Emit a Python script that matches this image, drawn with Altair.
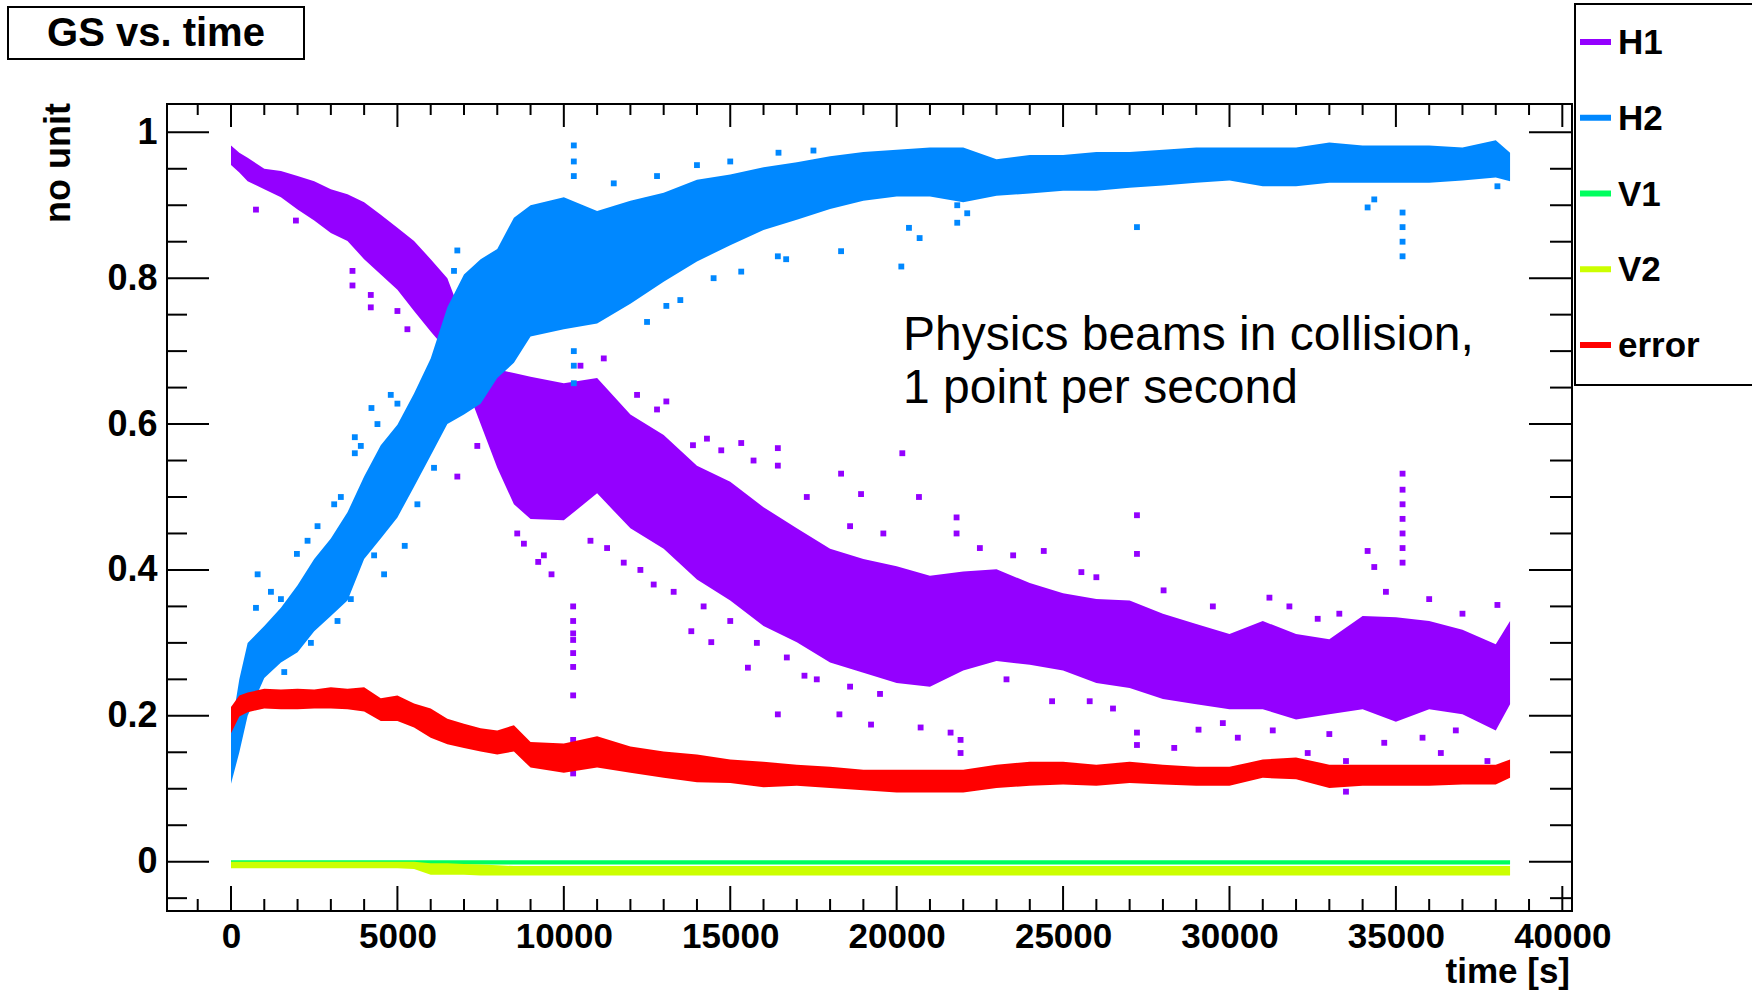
import altair as alt
import pandas as pd

# ---------------- data ----------------
T = [0, 250, 500, 1000, 1500, 2000, 2500, 3000, 3500, 4000, 4500, 5000, 5500,
     6000, 6500, 7000, 7500, 8000, 8500, 9000, 10000, 11000, 12000, 13000,
     14000, 15000, 16000, 17000, 18000, 19000, 20000, 21000, 22000, 23000,
     24000, 25000, 26000, 27000, 28000, 29000, 30000, 31000, 32000, 33000,
     34000, 35000, 36000, 37000, 38000, 38430]

H1_LO = [0.955, 0.945, 0.933, 0.922, 0.911, 0.894, 0.879, 0.862, 0.851, 0.826,
         0.805, 0.784, 0.755, 0.727, 0.700, 0.660, 0.600, 0.540, 0.490, 0.470,
         0.468, 0.505, 0.457, 0.429, 0.387, 0.358, 0.323, 0.301, 0.273, 0.259,
         0.245, 0.240, 0.262, 0.275, 0.270, 0.262, 0.245, 0.238, 0.223, 0.216,
         0.209, 0.209, 0.195, 0.202, 0.209, 0.192, 0.209, 0.202, 0.180, 0.216]
H1_HI = [0.982, 0.972, 0.965, 0.950, 0.947, 0.940, 0.933, 0.922, 0.915, 0.904,
         0.887, 0.869, 0.851, 0.826, 0.800, 0.740, 0.690, 0.675, 0.670, 0.665,
         0.656, 0.663, 0.613, 0.585, 0.543, 0.521, 0.486, 0.457, 0.429, 0.415,
         0.405, 0.392, 0.398, 0.401, 0.382, 0.368, 0.360, 0.358, 0.340, 0.326,
         0.312, 0.330, 0.312, 0.305, 0.337, 0.335, 0.330, 0.318, 0.298, 0.330]

H2_LO = [0.107, 0.150, 0.200, 0.252, 0.273, 0.287, 0.316, 0.337, 0.358, 0.415,
         0.443, 0.472, 0.514, 0.557, 0.600, 0.613, 0.628, 0.663, 0.684, 0.720,
         0.730, 0.738, 0.765, 0.795, 0.823, 0.845, 0.866, 0.880, 0.895, 0.906,
         0.912, 0.912, 0.904, 0.913, 0.916, 0.920, 0.920, 0.924, 0.927, 0.931,
         0.934, 0.926, 0.926, 0.931, 0.931, 0.931, 0.931, 0.934, 0.938, 0.933]
H2_HI = [0.180, 0.250, 0.300, 0.323, 0.348, 0.379, 0.415, 0.443, 0.479, 0.528,
         0.571, 0.599, 0.642, 0.690, 0.760, 0.805, 0.826, 0.840, 0.883, 0.900,
         0.911, 0.892, 0.906, 0.917, 0.935, 0.942, 0.952, 0.959, 0.967, 0.973,
         0.976, 0.979, 0.979, 0.963, 0.969, 0.969, 0.973, 0.973, 0.976, 0.979,
         0.979, 0.979, 0.979, 0.986, 0.982, 0.982, 0.982, 0.979, 0.989, 0.972]

V1_LO = [-0.004] * 50
V1_HI = [0.002] * 50

V2_LO = [-0.009, -0.009, -0.009, -0.009, -0.009, -0.009, -0.009, -0.009, -0.009,
         -0.009, -0.009, -0.009, -0.010, -0.018, -0.018, -0.018, -0.019, -0.019,
         -0.019, -0.019, -0.019, -0.019, -0.019, -0.019, -0.019, -0.019, -0.019,
         -0.019, -0.019, -0.019, -0.019, -0.019, -0.019, -0.019, -0.019, -0.019,
         -0.019, -0.019, -0.019, -0.019, -0.019, -0.019, -0.019, -0.019, -0.019,
         -0.019, -0.019, -0.019, -0.019, -0.019]
V2_HI = [0.000, 0.000, 0.000, 0.000, 0.000, 0.000, 0.000, 0.000, 0.000, 0.000,
         0.000, 0.000, 0.000, -0.002, -0.002, -0.003, -0.004, -0.005, -0.006,
         -0.006, -0.006, -0.006, -0.006, -0.006, -0.006, -0.006, -0.006, -0.006,
         -0.006, -0.006, -0.006, -0.006, -0.006, -0.006, -0.006, -0.006, -0.006,
         -0.006, -0.006, -0.006, -0.006, -0.006, -0.006, -0.006, -0.006, -0.006,
         -0.006, -0.006, -0.006, -0.006]

ERR_LO = [0.176, 0.199, 0.205, 0.210, 0.209, 0.209, 0.210, 0.210, 0.209, 0.206,
          0.193, 0.193, 0.184, 0.170, 0.161, 0.156, 0.151, 0.147, 0.151, 0.129,
          0.122, 0.129, 0.122, 0.115, 0.109, 0.108, 0.102, 0.104, 0.101, 0.098,
          0.095, 0.095, 0.095, 0.101, 0.104, 0.106, 0.104, 0.108, 0.106, 0.104,
          0.104, 0.115, 0.113, 0.101, 0.104, 0.104, 0.104, 0.106, 0.106, 0.115]
ERR_HI = [0.212, 0.228, 0.232, 0.237, 0.236, 0.237, 0.236, 0.239, 0.237, 0.239,
          0.224, 0.228, 0.217, 0.210, 0.196, 0.189, 0.183, 0.180, 0.187, 0.164,
          0.162, 0.172, 0.158, 0.151, 0.147, 0.140, 0.137, 0.133, 0.130, 0.126,
          0.126, 0.126, 0.126, 0.133, 0.137, 0.137, 0.133, 0.137, 0.133, 0.130,
          0.130, 0.140, 0.143, 0.133, 0.133, 0.133, 0.133, 0.133, 0.133, 0.140]

# scattered single points outside the dense bands
H1_OUT_T = [750, 1950, 3650, 3650, 4200, 4200, 5000, 5300, 6800, 7400, 8100, 8800,
            8600, 9400, 9230, 9630,
            10280, 10280, 10280, 10280, 10280, 10280, 10280, 10280, 10280, 10280,
            13080, 13880, 14730, 15330, 16430, 16430, 18330, 18930,
            13830, 14430, 15530, 16430, 17230, 18280, 19230,
            20170, 20670, 21800, 21800, 24420, 25550, 27220, 27220, 28020,
            20720, 21620, 21920, 21920, 24670, 27220, 27220, 28340, 29070,
            31200, 34150, 34350, 35200, 35200, 35200, 35200, 35200, 35200, 35200,
            38050, 32650, 33500, 33500, 33500, 32350, 30250, 34650, 36350, 37750,
            35800,
            10800, 11300, 11800, 12300, 12700, 13300, 14200, 15000, 15800, 16700,
            17600, 18600, 19500,
            10500, 11200, 12200, 12800, 14300, 15700, 17300, 18600, 19600,
            22500, 23500, 26000, 29500, 31800, 33300, 34700, 36000, 37000,
            23300, 25800, 26500, 29800, 31300, 33000, 36800]
H1_OUT_V = [0.894, 0.879, 0.810, 0.790, 0.777, 0.760, 0.755, 0.730, 0.528, 0.570,
            0.550, 0.436, 0.450, 0.420, 0.411, 0.394,
            0.350, 0.330, 0.313, 0.304, 0.286, 0.267, 0.228, 0.167, 0.145, 0.121,
            0.631, 0.571, 0.564, 0.574, 0.567, 0.543, 0.532, 0.504,
            0.316, 0.301, 0.266, 0.202, 0.255, 0.202, 0.188,
            0.560, 0.500, 0.472, 0.450, 0.426, 0.397, 0.475, 0.422, 0.372,
            0.184, 0.177, 0.149, 0.167, 0.220, 0.160, 0.177, 0.156, 0.181,
            0.362, 0.426, 0.404, 0.532, 0.510, 0.490, 0.470, 0.450, 0.430, 0.410,
            0.352, 0.333, 0.096, 0.117, 0.138, 0.149, 0.170, 0.163, 0.149, 0.138,
            0.170,
            0.440, 0.430, 0.410, 0.400, 0.380, 0.370, 0.350, 0.330, 0.300, 0.280,
            0.250, 0.240, 0.230,
            0.680, 0.690, 0.640, 0.620, 0.580, 0.550, 0.500, 0.460, 0.450,
            0.430, 0.420, 0.390, 0.350, 0.350, 0.340, 0.370, 0.360, 0.340,
            0.250, 0.220, 0.210, 0.190, 0.180, 0.175, 0.180]

H2_OUT_T = [800, 750, 1980, 3720, 3720, 4220, 5000, 4600, 5220, 6800, 6700,
            10300, 10300, 10300, 10300, 10300, 10300,
            16450, 18330, 13080, 16430, 16680, 15330,
            20140, 20690, 20370, 27220, 22120, 21820, 21820,
            35200, 35200, 35200, 35200, 34150, 34350, 38050,
            1200, 1500, 2300, 2600, 3100, 3300, 3900, 4400, 4800,
            1600, 2400, 3200, 3600, 4300, 5600, 6100,
            12500, 13500, 14500, 11500, 12800, 14000, 15000, 17500]
H2_OUT_V = [0.394, 0.348, 0.422, 0.582, 0.560, 0.622, 0.628, 0.394, 0.433, 0.838,
            0.810,
            0.982, 0.960, 0.940, 0.700, 0.680, 0.656,
            0.972, 0.837, 0.762, 0.830, 0.826, 0.809,
            0.816, 0.855, 0.869, 0.870, 0.889, 0.876, 0.900,
            0.830, 0.850, 0.870, 0.890, 0.897, 0.908, 0.926,
            0.370, 0.360, 0.440, 0.460, 0.490, 0.500, 0.570, 0.600, 0.640,
            0.260, 0.300, 0.330, 0.360, 0.420, 0.490, 0.540,
            0.740, 0.770, 0.800, 0.930, 0.940, 0.955, 0.960, 0.975]

LEGEND_NAMES = ["H1", "H2", "V1", "V2", "error"]
COLORS = {"H1": "#9400ff", "H2": "#0088ff", "V1": "#00ff5e",
          "V2": "#ccff00", "error": "#ff0000"}

X_MAJOR = [0, 5000, 10000, 15000, 20000, 25000, 30000, 35000, 40000]
X_MINOR = [t for t in range(-1000, 40001, 1000) if t % 5000 != 0]
Y_MAJOR = [0, 0.2, 0.4, 0.6, 0.8, 1.0]
Y_MINOR = [-0.05, 0.05, 0.1, 0.15, 0.25, 0.3, 0.35, 0.45, 0.5, 0.55, 0.65, 0.7,
           0.75, 0.85, 0.9, 0.95]

# ---------------- chart ----------------
W, H = 1405, 807
FONT = "Liberation Sans"

xscale = alt.Scale(domain=[-1923, 40291], nice=False, zero=False)
yscale = alt.Scale(domain=[-0.0676, 1.0388], nice=False, zero=False)
xaxis = alt.Axis(values=X_MAJOR, format="d", labelFontSize=35, labelFontWeight="bold",
                 labelFont=FONT, labelColor="black", labelPadding=8, ticks=False,
                 tickSize=0, domain=False, grid=False, title=None, labelFlush=False,
                 labelOverlap=False)
yaxis = alt.Axis(values=Y_MAJOR, format="~g", labelFontSize=36, labelFontWeight="bold",
                 labelFont=FONT, labelColor="black", labelPadding=10, ticks=False,
                 tickSize=0, domain=False, grid=False, title=None, labelOverlap=False)


def X(f):
    return alt.X(f, type="quantitative", scale=xscale, axis=xaxis)


def Y(f):
    return alt.Y(f, type="quantitative", scale=yscale, axis=yaxis)


layers = []

bands = [("H1", H1_LO, H1_HI), ("H2", H2_LO, H2_HI), ("V1", V1_LO, V1_HI),
         ("V2", V2_LO, V2_HI), ("error", ERR_LO, ERR_HI)]
outs = {"H1": (H1_OUT_T, H1_OUT_V), "H2": (H2_OUT_T, H2_OUT_V)}

for name, lo, hi in bands:
    df = pd.DataFrame({"t": T, "lo": lo, "hi": hi})
    layers.append(alt.Chart(df).mark_area(color=COLORS[name], interpolate="linear",
                                          opacity=1).encode(
        x=X("t"), y=Y("lo"), y2="hi"))
    if name in outs:
        ot, ov = outs[name]
        odf = pd.DataFrame({"t": ot, "v": ov})
        layers.append(alt.Chart(odf).mark_square(color=COLORS[name], size=34,
                                                 opacity=1).encode(x=X("t"), y=Y("v")))

# inward tick marks (ROOT style)
xmaj = pd.DataFrame({"v": X_MAJOR})
xmin = pd.DataFrame({"v": X_MINOR})
ymaj = pd.DataFrame({"v": Y_MAJOR})
ymin = pd.DataFrame({"v": Y_MINOR})
tk = dict(color="black", strokeWidth=2)
layers += [
    alt.Chart(xmaj).mark_rule(**tk).encode(x=X("v"), y=alt.value(H), y2=alt.value(H - 25)),
    alt.Chart(xmaj).mark_rule(**tk).encode(x=X("v"), y=alt.value(0), y2=alt.value(23)),
    alt.Chart(xmin).mark_rule(**tk).encode(x=X("v"), y=alt.value(H), y2=alt.value(H - 12)),
    alt.Chart(xmin).mark_rule(**tk).encode(x=X("v"), y=alt.value(0), y2=alt.value(11)),
    alt.Chart(ymaj).mark_rule(**tk).encode(y=Y("v"), x=alt.value(0), x2=alt.value(42)),
    alt.Chart(ymaj).mark_rule(**tk).encode(y=Y("v"), x=alt.value(W), x2=alt.value(W - 43)),
    alt.Chart(ymin).mark_rule(**tk).encode(y=Y("v"), x=alt.value(0), x2=alt.value(20)),
    alt.Chart(ymin).mark_rule(**tk).encode(y=Y("v"), x=alt.value(W), x2=alt.value(W - 22)),
]

one = pd.DataFrame({"a": [0]})

# title box
layers.append(alt.Chart(one).mark_rect(fill="white", stroke="black", strokeWidth=2).encode(
    x=alt.value(-159), x2=alt.value(137), y=alt.value(-97), y2=alt.value(-45)))
layers.append(alt.Chart(one).mark_text(text="GS vs. time", font=FONT, fontSize=40,
                                       fontWeight="bold", align="center",
                                       baseline="middle", color="black").encode(
    x=alt.value(-11), y=alt.value(-70)))

# axis titles
layers.append(alt.Chart(one).mark_text(text="time [s]", font=FONT, fontSize=35,
                                       fontWeight="bold", align="right",
                                       baseline="alphabetic", color="black").encode(
    x=alt.value(1403), y=alt.value(879)))
layers.append(alt.Chart(one).mark_text(text="no unit", font=FONT, fontSize=36,
                                       fontWeight="bold", align="right", angle=270,
                                       baseline="middle", color="black").encode(
    x=alt.value(-108), y=alt.value(-1)))

# annotation
layers.append(alt.Chart(one).mark_text(text="Physics beams in collision,", font=FONT,
                                       fontSize=48, align="left", baseline="alphabetic",
                                       color="black").encode(
    x=alt.value(736), y=alt.value(246)))
layers.append(alt.Chart(one).mark_text(text="1 point per second", font=FONT,
                                       fontSize=48, align="left", baseline="alphabetic",
                                       color="black").encode(
    x=alt.value(736), y=alt.value(299)))

# legend box and entries
layers.append(alt.Chart(one).mark_rect(fill="white", stroke="black", strokeWidth=2).encode(
    x=alt.value(1408), x2=alt.value(1620), y=alt.value(-100), y2=alt.value(281)))
for i, name in enumerate(LEGEND_NAMES):
    yy = -62 + 75.75 * i
    layers.append(alt.Chart(one).mark_rule(color=COLORS[name], strokeWidth=6).encode(
        x=alt.value(1413), x2=alt.value(1444), y=alt.value(yy)))
    layers.append(alt.Chart(one).mark_text(text=name, font=FONT, fontSize=35,
                                           fontWeight="bold", align="left",
                                           baseline="middle", color="black").encode(
        x=alt.value(1451), y=alt.value(yy + 1)))

chart = alt.layer(*layers).properties(
    width=W, height=H,
    padding={"left": 167, "top": 104, "right": 180, "bottom": 80},
    autosize=alt.AutoSizeParams(type="none"),
    background="white",
).configure_view(stroke="black", strokeWidth=2)

chart.save("out.html", embed_options={"renderer": "svg", "actions": False})
